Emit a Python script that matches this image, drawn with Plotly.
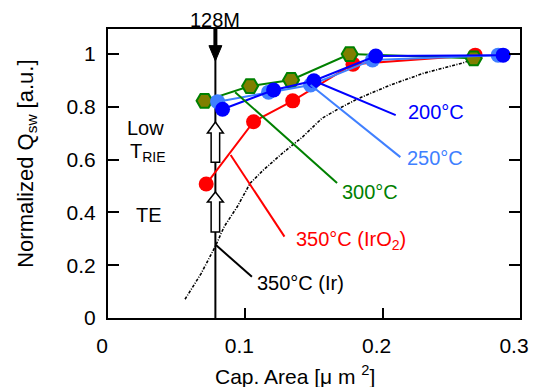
import plotly.graph_objects as go

# ---- data ----
x_200 = [0.0834, 0.1206, 0.1499, 0.1950, 0.2877]
y_200 = [0.790, 0.863, 0.898, 0.992, 0.995]

x_250 = [0.0798, 0.1169, 0.1475, 0.1926, 0.2841]
y_250 = [0.819, 0.855, 0.882, 0.977, 0.995]

x_300 = [0.0703, 0.1035, 0.1333, 0.1760, 0.2663]
y_300 = [0.822, 0.878, 0.901, 0.999, 0.983]

x_350_iro2 = [0.0715, 0.1060, 0.1345, 0.1784, 0.2674]
y_350_iro2 = [0.507, 0.743, 0.822, 0.961, 0.995]

x_350_ir = [0.0561, 0.0679, 0.0786, 0.0846, 0.0941, 0.1035, 0.1131, 0.1273,
            0.1416, 0.1558, 0.1689, 0.1819, 0.2057, 0.2295, 0.2601, 0.2672]
y_350_ir = [0.071, 0.169, 0.276, 0.346, 0.421, 0.510, 0.560, 0.625,
            0.685, 0.756, 0.795, 0.830, 0.882, 0.926, 0.968, 0.988]

x_128m = 0.0782
x_ticks = [0, 0.1, 0.2, 0.3]
x_ticktext = ["0", "0.1", "0.2", "0.3"]
y_ticks = [0, 0.2, 0.4, 0.6, 0.8, 1.0]
y_ticktext = ["0", "0.2", "0.4", "0.6", "0.8", "1"]

BLUE = "#0000FF"
LBLUE = "#4080FF"
GREEN = "#008000"
OLIVE = "#7F7F00"
RED = "#FF0000"
FONT = "Liberation Sans, Arial, sans-serif"

fig = go.Figure()

fig.add_trace(go.Scatter(x=x_350_ir, y=y_350_ir, mode="lines",
                         line=dict(color="black", width=1.6, dash="3px,1.5px,1px,1.5px"),
                         showlegend=False))
fig.add_trace(go.Scatter(x=x_350_iro2, y=y_350_iro2, mode="lines+markers",
                         line=dict(color=RED, width=2),
                         marker=dict(symbol="circle", size=15, color=RED),
                         showlegend=False))
fig.add_trace(go.Scatter(x=x_300, y=y_300, mode="lines+markers",
                         line=dict(color=GREEN, width=2),
                         marker=dict(symbol="hexagon2", size=16, color=OLIVE,
                                     line=dict(color=GREEN, width=2)),
                         showlegend=False))
fig.add_trace(go.Scatter(x=x_250, y=y_250, mode="lines+markers",
                         line=dict(color=LBLUE, width=2),
                         marker=dict(symbol="circle", size=15, color=LBLUE),
                         showlegend=False))
fig.add_trace(go.Scatter(x=x_200, y=y_200, mode="lines+markers",
                         line=dict(color=BLUE, width=2),
                         marker=dict(symbol="circle", size=15, color=BLUE),
                         showlegend=False))

shapes = []
# vertical 128M line
shapes.append(dict(type="line", x0=x_128m, x1=x_128m, y0=0, y1=1.094,
                   xref="x", yref="y", line=dict(color="black", width=2), layer="below"))
# down arrow at the top
shapes.append(dict(type="line", x0=x_128m, x1=x_128m, y0=1.094, y1=1.025,
                   xref="x", yref="y", line=dict(color="black", width=4)))
hw = 0.0047
shapes.append(dict(type="path", xref="x", yref="y",
                   path=f"M {x_128m-hw},1.031 L {x_128m},0.973 L {x_128m+hw},1.031 Z",
                   fillcolor="black", line=dict(color="black", width=1)))


def block_arrow(tip, base, bottom):
    hs, hh = 0.0031, 0.0058
    xc = x_128m
    p = (f"M {xc-hs},{bottom} L {xc-hs},{base} L {xc-hh},{base} L {xc},{tip} "
         f"L {xc+hh},{base} L {xc+hs},{base} L {xc+hs},{bottom} Z")
    return dict(type="path", xref="x", yref="y", path=p, fillcolor="white",
                line=dict(color="black", width=1.5))


shapes.append(block_arrow(0.742, 0.700, 0.590))
shapes.append(block_arrow(0.477, 0.439, 0.3255))

# leader lines
leaders = [
    (0.1499, 0.898, 0.2095, 0.768, BLUE),
    (0.1475, 0.882, 0.2129, 0.609, LBLUE),
    (0.0926, 0.855, 0.1668, 0.511, GREEN),
    (0.0893, 0.617, 0.1285, 0.308, RED),
    (0.0786, 0.276, 0.1048, 0.156, "black"),
]
for x0, y0, x1, y1, c in leaders:
    shapes.append(dict(type="line", xref="x", yref="y", x0=x0, y0=y0, x1=x1, y1=y1,
                       line=dict(color=c, width=2)))

ann = []


def label(text, x, y, color, xanchor="left", size=20, xref="x", yref="y", **kw):
    ann.append(dict(text=text, x=x, y=y, xref=xref, yref=yref, xanchor=xanchor,
                    yanchor="middle", showarrow=False,
                    font=dict(family=FONT, size=size, color=color), **kw))


label("200°C", 0.2173, 0.78, BLUE)
label("250°C", 0.2164, 0.606, LBLUE)
label("300°C", 0.1689, 0.478, GREEN)
label("350°C (IrO<sub>2</sub>)", 0.1354, 0.295, RED)
label("350°C (Ir)", 0.1069, 0.1325, "black")
label("Low", 0.0276, 0.719, "black", xanchor="center")
label("T<sub>RIE</sub>", 0.0143, 0.625, "black")
label("TE", 0.0299, 0.39, "black", xanchor="center")
label("128M", x_128m, 1.031, "black", xanchor="center", yref="paper")
label("Normalized Q<sub>sw</sub> [a.u.]", -0.197, 0.533, "black", xanchor="center",
      size=22, xref="paper", yref="paper", textangle=-90)
label("Cap. Area [μ m <sup>2</sup>]", 0.4537, -0.197, "black", xanchor="center",
      size=21, xref="paper", yref="paper")

# the page body adds an 8px margin, so the figure is 8px smaller on each side
fig.update_layout(
    width=531, height=379,
    margin=dict(l=100, r=10, t=21, b=69),
    plot_bgcolor="white", paper_bgcolor="white",
    shapes=shapes, annotations=ann,
    font=dict(family=FONT, size=20, color="black"),
    xaxis=dict(range=[0, 0.3], tickvals=x_ticks, ticktext=x_ticktext,
               ticks="inside", ticklen=10, tickwidth=2, tickcolor="black",
               showline=True, linewidth=2, linecolor="black", mirror=True,
               showgrid=False, zeroline=False, ticklabelstandoff=8,
               ticklabelshift=-6, tickfont=dict(size=21)),
    yaxis=dict(range=[0, 1.094], tickvals=y_ticks, ticktext=y_ticktext,
               ticks="inside", ticklen=11, tickwidth=2, tickcolor="black",
               showline=True, linewidth=2, linecolor="black", mirror="ticks",
               showgrid=False, zeroline=False, ticklabelstandoff=6,
               tickfont=dict(size=21)),
)

fig.write_html("out.html")
